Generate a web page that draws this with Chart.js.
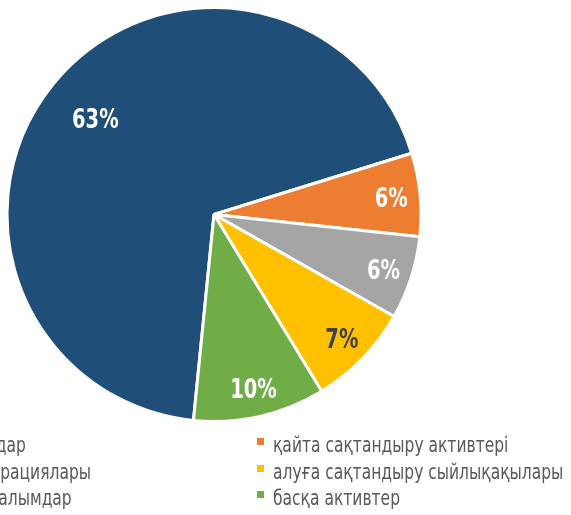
<!DOCTYPE html>
<html lang="kk">
<head>
<meta charset="UTF-8">
<title>Активтер құрылымы</title>
<script src="https://cdn.jsdelivr.net/npm/chart.js"></script>
<style>
    body {
        margin: 0;
        width: 571px;
        height: 515px;
        overflow: hidden;
        background: #fff;
        font-family: "DejaVu Sans Condensed", "Liberation Sans Narrow", sans-serif;
    }
    .wrap {
        position: absolute;
        left: 0;
        top: 0;
        width: 571px;
        height: 515px;
    }
    .legend {
        position: absolute;
        top: 432px;
        left: 0;
        width: 571px;
    }
    .item {
        position: absolute;
        height: 26.6px;
        line-height: 26.6px;
        font-size: 22px;
        color: #595959;
        white-space: nowrap;
        transform: scaleX(0.784);
        transform-origin: left center;
    }
    .mark {
        position: absolute;
        width: 7px;
        height: 7px;
    }
</style>
</head>
<body>
<div class="wrap"><canvas id="pie"></canvas></div>
<div class="legend" id="legend"></div>

<script>
    // категориялар (Excel ретімен)
    const categories = [
        'бағалы қағаздар',
        'қайта сақтандыру активтері',
        'кері РЕПО операциялары',
        'алуға сақтандыру сыйлықақылары',
        'банктердегі салымдар',
        'басқа активтер'
    ];
    // сектор өлшемдері суреттен оқылды
    const shares = [68.7, 6.5, 6.5, 8.1, 0, 10.3];
    // секторлардағы жазулар
    const shownPct = ['63%', '6%', '6%', '7%', '', '10%'];
    const colors = ['#1F4E79', '#ED7D31', '#A5A5A5', '#FFC000', '#5B9BD5', '#70AD47'];
    const labelColors = ['#fff', '#fff', '#fff', '#404040', '#fff', '#fff'];

    const pctLabels = {
        id: 'pctLabels',
        afterDatasetsDraw(chart) {
            const ctx = chart.ctx;
            const arcs = chart.getDatasetMeta(0).data;
            ctx.save();
            ctx.font = 'bold 27px "DejaVu Sans Condensed", sans-serif';
            ctx.textAlign = 'center';
            ctx.textBaseline = 'alphabetic';
            arcs.forEach((arc, i) => {
                if (!shownPct[i]) return;
                const mid = (arc.startAngle + arc.endAngle) / 2;
                const k = arc.endAngle - arc.startAngle > Math.PI ? 0.74 : 0.86;
                const r = arc.outerRadius * k;
                const x = arc.x + Math.cos(mid) * r;
                const y = arc.y + Math.sin(mid) * r;
                ctx.save();
                ctx.translate(x, y + 10);
                ctx.scale(0.8, 1);
                ctx.fillStyle = labelColors[i];
                ctx.fillText(shownPct[i], 0, 0);
                ctx.restore();
            });
            ctx.restore();
        }
    };

    const canvas = document.getElementById('pie');
    canvas.width = 571;
    canvas.height = 515;

    new Chart(canvas, {
        type: 'pie',
        data: {
            labels: categories,
            datasets: [{
                data: shares,
                backgroundColor: colors,
                borderColor: '#fff',
                borderWidth: 3,
                hoverOffset: 0
            }]
        },
        options: {
            responsive: false,
            animation: false,
            rotation: 185.7,
            layout: { padding: { left: 5.5, top: 6, right: 148.5, bottom: 92 } },
            plugins: {
                legend: { display: false },
                tooltip: { enabled: false }
            }
        },
        plugins: [pctLabels]
    });

    // легенда: екі баған, жолдар бойынша
    const legend = document.getElementById('legend');
    const colX = [-115, 273];
    categories.forEach((name, i) => {
        const top = Math.floor(i / 2) * 26.6;
        const mark = document.createElement('div');
        mark.className = 'mark';
        mark.style.background = colors[i];
        mark.style.left = (colX[i % 2] - 16) + 'px';
        mark.style.top = (top + 6) + 'px';
        legend.appendChild(mark);

        const el = document.createElement('div');
        el.className = 'item';
        el.style.left = colX[i % 2] + 'px';
        el.style.top = top + 'px';
        el.textContent = name;
        legend.appendChild(el);
    });
</script>
</body>
</html>
